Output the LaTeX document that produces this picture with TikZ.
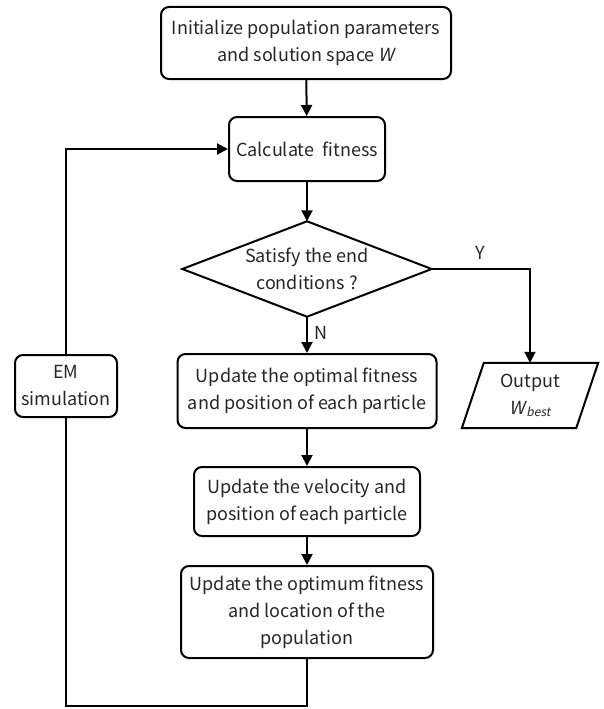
\documentclass[tikz,border=0pt]{standalone}
\usepackage{fontspec}
\setmainfont{Noto Sans CJK SC}[ItalicFont=Noto Sans CJK SC, ItalicFeatures={FakeSlant=0.2}]
\usetikzlibrary{arrows.meta}
\begin{document}
\begin{tikzpicture}[x=1pt,y=-1pt,
  every node/.style={font=\fontsize{18pt}{27pt}\selectfont, text=black!85, align=center, inner sep=0pt},
  procbox/.style={draw, line width=2pt, rounded corners=8pt},
  conn/.style={line width=2pt, -{Triangle[length=11pt,width=11pt]}},
  plainline/.style={line width=2pt}]
\useasboundingbox (0,0) rectangle (603,709);
\node[procbox, minimum width=290pt, minimum height=72pt] (init) at (306,43) {Initialize population parameters\\and solution space \textit{W}};
\node[procbox, minimum width=156pt, minimum height=64pt] (calc) at (307,149) {Calculate\ \ fitness};
\node[minimum width=249pt, minimum height=95pt] (cond) at (307,269) {Satisfy the end\\conditions ?};
\draw[plainline, line join=miter] (cond.north) -- (cond.east) -- (cond.south) -- (cond.west) -- cycle;
\node[procbox, minimum width=259pt, minimum height=74pt] (upd1) at (307,391) {Update the optimal fitness\\and position of each particle};
\node[procbox, minimum width=226pt, minimum height=69pt] (upd2) at (307,501.5) {Update the velocity and\\position of each particle};
\node[procbox, minimum width=252pt, minimum height=92pt] (upd3) at (307,612) {Update the optimum fitness\\and location of the\\population};
\node[procbox, minimum width=102pt, minimum height=62pt] (em) at (66,386) {EM\\simulation};
\node[minimum width=136pt, minimum height=65pt] (out) at (530,395.5) {Output\\\textit{W}\kern1pt\raisebox{-2pt}{\fontsize{12pt}{12pt}\selectfont\textit{best}}};
\draw[plainline, line join=miter] ([xshift=22pt]out.north west) -- (out.north east) -- ([xshift=-22pt]out.south east) -- (out.south west) -- cycle;
\coordinate (ycorner) at (out.north |- cond.east);
\coordinate (b1) at (upd3.south |- 0,706);
\coordinate (b2) at (66,706);
\coordinate (b3) at (66,149);
\draw[conn] (init) -- (calc);
\draw[conn] (calc) -- (cond);
\draw[conn] (cond.south) -- node[right=6pt, pos=0.45] (nlab) {N} (upd1);
\draw[conn] (cond.east) -- (ycorner) -- (out.north);
\node (ylab) at (480,253) {Y};
\draw[conn] (upd1) -- (upd2);
\draw[conn] (upd2) -- (upd3);
\draw[plainline] (upd3.south) -- (b1) -- (b2) -- (em.south);
\draw[conn] (em.north) -- (b3) -- (calc.west);
\end{tikzpicture}
\end{document}
